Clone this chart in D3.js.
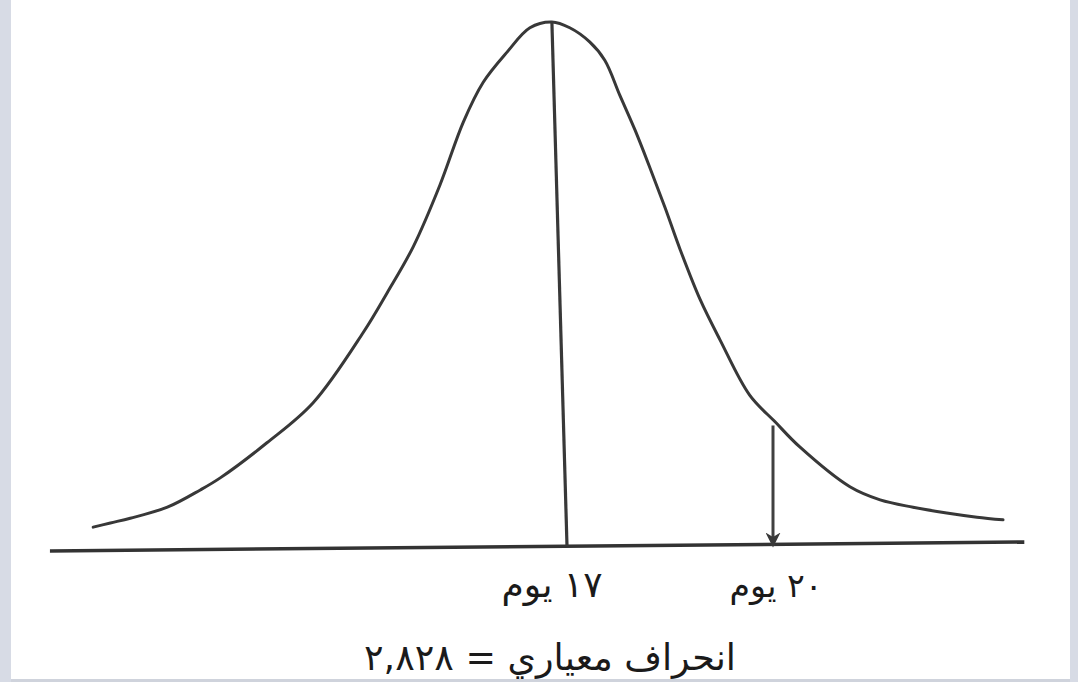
<!DOCTYPE html>
<html>
<head>
<meta charset="utf-8">
<script src="https://cdn.jsdelivr.net/npm/d3@7"></script>
<style>
  body { margin: 0; background: #ffffff; overflow: hidden; }
  .curve { fill: none; stroke: #383838; stroke-width: 3; stroke-linecap: round; stroke-linejoin: round; }
  .meanLine { fill: none; stroke: #383838; stroke-width: 3.2; }
  .markLine { fill: none; stroke: #404040; stroke-width: 3; }
  .baseLine { fill: none; stroke: #333333; stroke-width: 3.5; }
  .dayLabel, .sdLabel { font-family: "DejaVu Sans", sans-serif; fill: #1a1a1a; }
</style>
</head>
<body>
<div id="chart"></div>
<script>
var svgWidth = 1078;
var svgHeight = 682;

// curve: days on x, height as % of the peak
var curveDays = [10.10, 10.35, 10.64, 11.18, 11.66, 11.95, 12.63, 13.30, 14.03, 14.38,
  14.76, 15.15, 15.49, 15.78, 16.13, 16.46, 16.78, 17.04, 17.33, 17.55,
  17.77, 17.99, 18.21, 18.43, 18.65, 18.94, 19.23, 19.66, 20.03, 20.39,
  21.12, 21.56, 22.04, 22.53, 22.97, 23.35];
var curveHeights = [3.6, 4.4, 5.3, 7.4, 10.7, 13.0, 19.7, 27.3, 40.7, 48.3,
  57.1, 68.9, 80.9, 88.5, 94.3, 98.9, 100, 98.9, 96.2, 92.7,
  86.0, 79.4, 72.1, 64.5, 56.5, 47.0, 39.3, 28.8, 23.7, 18.9,
  11.3, 8.8, 7.4, 6.3, 5.5, 5.0];

// the mean line (drawn slightly slanted in the original)
var meanDays = [16.78, 17.0];
var meanHeights = [100, 0];

// the arrow at 20 days
var markDays = [20.0, 20.0];
var markHeights = [23, 0];

// the horizontal axis line, a little tilted in the scan
var baseDays = [9.47, 23.66];
var baseHeights = [-0.95, 0.76];

var tickDays = [17, 20];
var tickLabels = ["١٧ يوم", "٢٠ يوم"];
var sdText = "انحراف معياري = ٢,٨٢٨";

var svg = d3.select("#chart")
  .append("svg")
  .attr("width", svgWidth)
  .attr("height", svgHeight);

// scan frame: grey strips on the sides and bottom
svg.append("rect").attr("x", 0).attr("y", 0).attr("width", svgWidth).attr("height", svgHeight).attr("fill", "#ffffff");
svg.append("rect").attr("x", 0).attr("y", 0).attr("width", 11).attr("height", svgHeight).attr("fill", "#d7dbe5");
svg.append("rect").attr("x", 1070).attr("y", 0).attr("width", 8).attr("height", svgHeight).attr("fill", "#d7dbe5");
svg.append("rect").attr("x", 11).attr("y", 679).attr("width", 1059).attr("height", 3).attr("fill", "#cfd3dc");

var xScale = d3.scaleLinear()
  .domain([17, 20])
  .range([567, 773]);

var yScale = d3.scaleLinear()
  .domain([0, 100])
  .range([546, 22]);

var chartGroup = svg.append("g");

function toPoints(days, heights) {
  return days.map(function (d, i) {
    return { day: d, h: heights[i] };
  });
}

var straight = d3.line()
  .x(d => xScale(d.day))
  .y(d => yScale(d.h));

var smooth = d3.line()
  .x(d => xScale(d.day))
  .y(d => yScale(d.h))
  .curve(d3.curveCatmullRom.alpha(0.5));

// arrow head
svg.append("defs").append("marker")
  .attr("id", "arrowHead")
  .attr("viewBox", "0 0 10 10")
  .attr("refX", 9)
  .attr("refY", 5)
  .attr("markerWidth", 5)
  .attr("markerHeight", 5)
  .attr("orient", "auto")
  .append("path")
  .attr("d", "M0,0 L10,5 L0,10 L3,5 Z")
  .attr("fill", "#383838");

chartGroup.append("path")
  .datum(toPoints(baseDays, baseHeights))
  .attr("class", "baseLine")
  .attr("d", straight);

chartGroup.append("path")
  .datum(toPoints(curveDays, curveHeights))
  .attr("class", "curve")
  .attr("d", smooth);

chartGroup.append("path")
  .datum(toPoints(meanDays, meanHeights))
  .attr("class", "meanLine")
  .attr("d", straight);

chartGroup.append("path")
  .datum(toPoints(markDays, markHeights))
  .attr("class", "markLine")
  .attr("marker-end", "url(#arrowHead)")
  .attr("d", straight);

// day labels under the axis
var labelShift = [-15, 3];
var labelWidth = [101, 93];

chartGroup.selectAll(".dayLabel")
  .data(tickDays)
  .enter()
  .append("text")
  .attr("class", "dayLabel")
  .attr("direction", "rtl")
  .attr("text-anchor", "middle")
  .attr("x", (d, i) => xScale(d) + labelShift[i])
  .attr("y", 597)
  .style("font-size", "30px")
  .text((d, i) => tickLabels[i])
  .each(function (d, i) {
    var w = this.getComputedTextLength();
    d3.select(this).style("font-size", (30 * labelWidth[i] / w) + "px");
  });

// standard deviation note
chartGroup.append("text")
  .attr("class", "sdLabel")
  .attr("direction", "rtl")
  .attr("text-anchor", "middle")
  .attr("x", 550)
  .attr("y", 670)
  .style("font-size", "30px")
  .text(sdText)
  .each(function () {
    var w = this.getComputedTextLength();
    d3.select(this).style("font-size", (30 * 372 / w) + "px");
  });
</script>
</body>
</html>
